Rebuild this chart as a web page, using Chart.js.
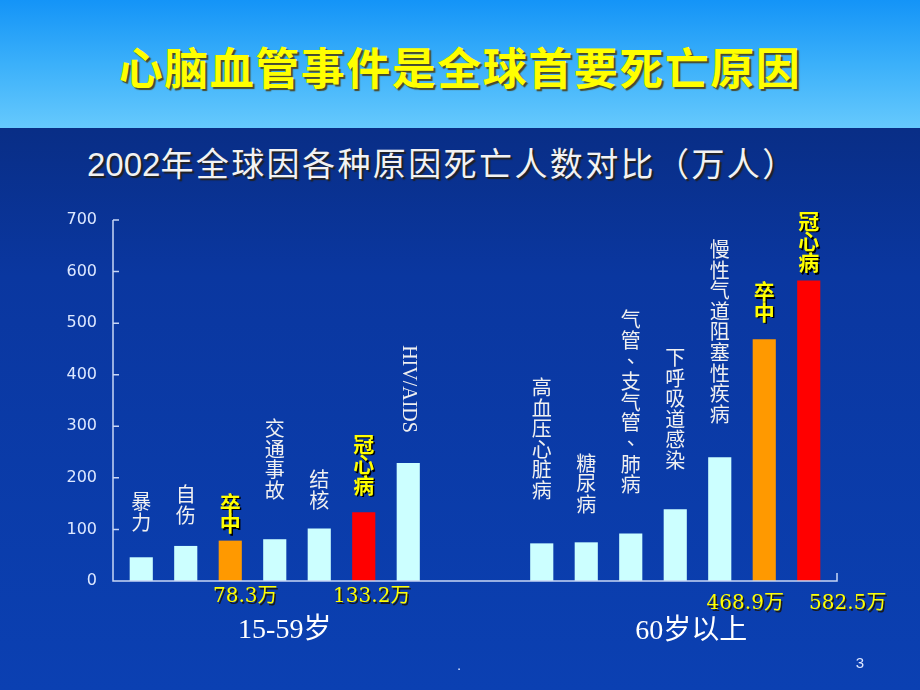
<!DOCTYPE html>
<html>
<head>
<meta charset="utf-8">
<script src="https://cdn.jsdelivr.net/npm/chart.js@4"></script>
<style>
  html, body { margin: 0; padding: 0; }
  body { width: 920px; height: 690px; overflow: hidden; position: relative;
         background: linear-gradient(180deg, #082670 0%, #0A37A0 40%, #0B40B2 100%); }
  #banner { position: absolute; left: 0; top: 0; width: 920px; height: 128px;
            background: linear-gradient(180deg, #1494F7 0%, #3BB0FA 50%, #66C9FD 100%); }
  #title { position: absolute; left: 0; top: 38px; width: 920px; text-align: center;
           font: bold 44px "Noto Sans CJK SC", sans-serif; color: #FFFF00; line-height: 56px;
           text-shadow: 2px 2px 1px #4a4a2a; letter-spacing: 1.5px; }
  #subtitle { position: absolute; left: 87px; top: 140px; width: 780px; white-space: nowrap;
              font: 33px "Noto Sans CJK SC", sans-serif; color: #F2F2F2; line-height: 44px;
              text-shadow: 2px 2px 1px #222; letter-spacing: 2.4px; }
  #subtitle span { font-family: "Liberation Sans Narrow", "Liberation Sans", sans-serif; letter-spacing: 0; }
  #wrap { position: absolute; left: 0; top: 0; width: 920px; height: 690px; }
</style>
</head>
<body>
<div id="banner"></div>
<div id="title">心脑血管事件是全球首要死亡原因</div>
<div id="subtitle"><span>2002</span>年全球因各种原因死亡人数对比（万人）</div>
<div id="wrap"><canvas id="chart" width="920" height="690"></canvas></div>
<script>
// 15-59岁 7 bars, two empty slots, 60岁以上 7 bars
const causes = ['暴力', '自伤', '卒中', '交通事故', '结核', '冠心病', 'HIV/AIDS', '', '',
  '高血压心脏病', '糖尿病', '气管、支气管、肺病', '下呼吸道感染', '慢性气道阻塞性疾病', '卒中', '冠心病'];
const deaths = [46, 68, 78.3, 81, 102, 133.2, 229, null, null,
  73, 75, 92, 139, 240, 468.9, 582.5];
const yTicks = [0, 100, 200, 300, 400, 500, 600, 700];
const groups = ['15-59岁', '60岁以上'];
const notes = ['78.3万', '133.2万', '468.9万', '582.5万'];
const noteIndex = [2, 5, 14, 15];

const barColor = i => causes[i] === '卒中' ? '#FF9900' : (causes[i] === '冠心病' ? '#FF0000' : '#CCFFFF');
const isHot = i => causes[i] === '卒中' || causes[i] === '冠心病';

// gap (px) between bar top and bottom of its label
const labelGap = [27, 23, 9, 41, 20, 19, 30, 0, 0, 45, 30, 41, 41, 35, 19, 10];
// note offsets from bar centre
const noteDx = [15, 8, -19, 39];
const noteY = [597, 597, 604, 604];

const deco = {
  id: 'deco',
  afterDatasetsDraw(chart) {
    const ctx = chart.ctx;
    const a = chart.chartArea;
    const y = chart.scales.y;
    const meta = chart.getDatasetMeta(0);
    const x0 = a.left - 6, x1 = a.right + 6;
    ctx.save();
    // axes
    ctx.strokeStyle = '#C8D6F5';
    ctx.lineWidth = 1.5;
    ctx.beginPath();
    ctx.moveTo(x0, y.getPixelForValue(700));
    ctx.lineTo(x0, a.bottom);
    ctx.lineTo(x1, a.bottom);
    ctx.lineTo(x1, a.bottom - 8);
    yTicks.forEach(v => {
      const py = y.getPixelForValue(v);
      ctx.moveTo(x0, py);
      ctx.lineTo(x0 + 6, py);
    });
    ctx.stroke();

    // vertical labels above bars
    causes.forEach((c, i) => {
      if (!c) return;
      const bar = meta.data[i];
      let bottom = bar.y - labelGap[i];
      ctx.textAlign = 'center';
      if (isHot(i)) {
        ctx.font = 'bold 21px "Noto Sans CJK SC", sans-serif';
        ctx.fillStyle = '#FFFF00';
        ctx.shadowColor = '#000';
        ctx.shadowOffsetX = 1.5;
        ctx.shadowOffsetY = 1.5;
        ctx.shadowBlur = 0;
      } else {
        ctx.font = '20px "Noto Sans CJK SC", sans-serif';
        ctx.fillStyle = '#F0F0F0';
        ctx.shadowColor = 'transparent';
      }
      if (c === 'HIV/AIDS') {
        ctx.save();
        ctx.translate(bar.x, bottom);
        ctx.rotate(Math.PI / 2);
        ctx.font = '20px "Liberation Serif", serif';
        ctx.textAlign = 'right';
        ctx.textBaseline = 'middle';
        ctx.fillText(c, 0, 0);
        ctx.restore();
        return;
      }
      ctx.textBaseline = 'bottom';
      const chars = Array.from(c);
      const step = 20.6;
      chars.forEach((ch, k) => {
        const cy = bottom - (chars.length - 1 - k) * step + 2;
        if (ch === '、') {
          ctx.fillText(ch, bar.x + 6, cy - 6);
        } else {
          ctx.fillText(ch, bar.x, cy);
        }
      });
    });

    // value notes under the axis
    ctx.font = '20px "DejaVu Serif", "Noto Sans CJK SC", serif';
    ctx.fillStyle = '#FFFF00';
    ctx.shadowColor = '#1a1a1a';
    ctx.shadowOffsetX = 1.5;
    ctx.shadowOffsetY = 1.5;
    ctx.textAlign = 'center';
    ctx.textBaseline = 'middle';
    notes.forEach((n, k) => {
      const bar = meta.data[noteIndex[k]];
      ctx.fillText(n, bar.x + noteDx[k], noteY[k]);
    });

    // group labels
    ctx.shadowColor = 'transparent';
    ctx.font = '28px "Liberation Serif", "Noto Sans CJK SC", serif';
    ctx.fillStyle = '#FFFFFF';
    ctx.fillText(groups[0], meta.data[3].x + 10, 631);
    ctx.fillText(groups[1], meta.data[12].x + 16, 632);

    // footer
    ctx.font = '15px "Liberation Sans", sans-serif';
    ctx.fillStyle = '#DDE6FF';
    ctx.fillText('3', 860, 664);
    ctx.fillText('.', 459, 666);
    ctx.restore();
  }
};

new Chart(document.getElementById('chart'), {
  type: 'bar',
  data: {
    labels: causes,
    datasets: [{
      data: deaths,
      backgroundColor: causes.map((c, i) => barColor(i)),
      borderWidth: 0,
      barPercentage: 0.52,
      categoryPercentage: 1
    }]
  },
  options: {
    responsive: false,
    animation: false,
    devicePixelRatio: 1,
    layout: { padding: { left: 59, right: 89, top: 220, bottom: 109 } },
    plugins: { legend: { display: false }, tooltip: { enabled: false } },
    scales: {
      x: {
        display: true,
        grid: { display: false },
        border: { display: false },
        ticks: { display: false },
        afterFit(s) { s.height = 0; }
      },
      y: {
        min: 0, max: 700,
        afterFit(s) { s.width = 60; },
        grid: { display: false },
        border: { display: false },
        ticks: {
          stepSize: 100,
          padding: 14,
          color: '#DDE8FF',
          font: { family: '"DejaVu Sans", sans-serif', size: 16 }
        }
      }
    }
  },
  plugins: [deco]
});
</script>
</body>
</html>
